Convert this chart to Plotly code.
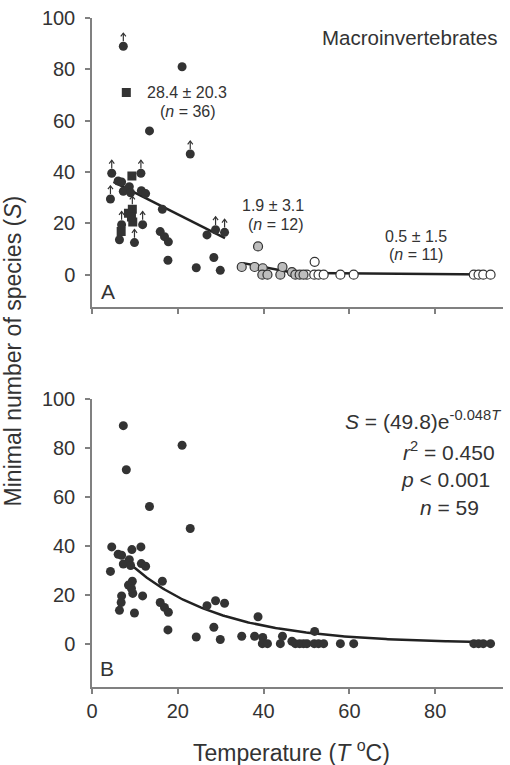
import numpy as np
import plotly.graph_objects as go

# ---- data ----
# group 1: T < ~31 degC (dark symbols), top panel
T_dark = [7.3, 8.0, 21.0, 13.4, 22.9, 4.6, 11.4, 9.3, 4.3, 6.1, 6.9, 7.3, 8.7, 9.0, 11.5, 12.5,
          9.4, 8.5, 9.5, 6.9, 6.8, 6.4, 9.9, 11.8, 16.4, 15.9, 16.9, 17.8, 17.7, 24.3, 26.8, 28.8,
          30.9, 28.4, 29.9, 9.2]
S_dark = [89, 71, 81, 56, 47, 39.5, 39.5, 38.4, 29.5, 36.5, 36.1, 32.5, 34.3, 31.9, 32.7, 31.6,
          25.5, 23.9, 20.5, 19.5, 16.8, 13.6, 12.5, 19.5, 25.5, 16.8, 14.8, 12.8, 5.6, 2.7, 15.5, 17.5,
          16.5, 6.7, 1.7, 22.5]
sym_dark = ["circle", "square", "circle", "circle", "circle", "circle", "circle", "square", "circle",
            "circle", "circle", "circle", "circle", "circle", "circle", "circle",
            "square", "square", "square", "circle", "square", "circle", "circle", "circle",
            "circle", "circle", "circle", "circle", "circle", "circle", "circle", "circle",
            "circle", "circle", "circle", "square"]
arrow_dark = [1, 0, 0, 0, 1, 1, 1, 0, 1, 0, 0, 0, 0, 0, 0, 0,
              1, 0, 0, 1, 0, 0, 1, 1, 0, 0, 0, 0, 0, 0, 0, 1,
              1, 0, 0, 0]

# group 2: ~35-50 degC (grey symbols)
T_grey = [34.9, 37.9, 38.7, 39.8, 39.7, 40.9, 43.9, 44.4, 46.6, 47.4, 48.4, 49.3]
S_grey = [3, 3, 11, 2.5, 0, 0, 0, 3, 1, 0, 0, 0]

# group 3: > 50 degC (open symbols)
T_open = [50.1, 51.9, 51.8, 52.8, 54.0, 57.9, 61.0, 89.0, 90.1, 91.2, 92.9]
S_open = [0, 5, 0, 0, 0, 0, 0, 0, 0, 0, 0]

# fitted lines in panel A (end points)
fitA_dark_T = [5.0, 31.0]
fitA_dark_S = [36.2, 14.2]
fitA_grey_T = [35.2, 48.5]
fitA_grey_S = [4.5, 0.3]
fitA_open_T = [50.0, 93.0]
fitA_open_S = [0.7, 0.1]

# panel B exponential fit  S = 49.8 e^(-0.048 T)
fitB_a = 49.8
fitB_b = -0.048
fitB_T_range = [9.0, 93.0]

x_ticks = [0, 20, 40, 60, 80]
y_ticks = [0, 20, 40, 60, 80, 100]

# ---- styling ----
FONT = "Liberation Sans, Arial, sans-serif"
DARK = "#333333"
GREY_FILL = "#bdbdbd"
AXIS = "#808080"
TXT = "#333333"

# arrow glyph geometry (in axis units of panel A): tail / tip offsets and chevron arms
ARR_TAIL, ARR_TIP, ARR_ARM_DY, ARR_ARM_DX = 1.9, 5.1, 1.3, 0.6

fig = go.Figure()

# ----- panel A (top) -----
for Tl, Sl in [(fitA_dark_T, fitA_dark_S), (fitA_grey_T, fitA_grey_S), (fitA_open_T, fitA_open_S)]:
    fig.add_trace(go.Scatter(x=Tl, y=Sl, mode="lines", line=dict(color="#222222", width=2.5),
                             xaxis="x2", yaxis="y2", showlegend=False, hoverinfo="skip"))

fig.add_trace(go.Scatter(x=T_open, y=S_open, mode="markers", xaxis="x2", yaxis="y2",
                         marker=dict(symbol="circle", size=9, color="white",
                                     line=dict(color=DARK, width=1.2)), showlegend=False))
fig.add_trace(go.Scatter(x=T_grey, y=S_grey, mode="markers", xaxis="x2", yaxis="y2",
                         marker=dict(symbol="circle", size=9, color=GREY_FILL,
                                     line=dict(color=DARK, width=1.2)), showlegend=False))
fig.add_trace(go.Scatter(x=T_dark, y=S_dark, mode="markers", xaxis="x2", yaxis="y2",
                         marker=dict(symbol=sym_dark, size=9, color=DARK,
                                     line=dict(width=0)), showlegend=False))

# "minimum value" arrows above some points of panel A
ax_, ay_ = [], []
for t, s, a in zip(T_dark, S_dark, arrow_dark):
    if a:
        tip = s + ARR_TIP
        ax_ += [t, t, None, t - ARR_ARM_DX, t, t + ARR_ARM_DX, None]
        ay_ += [s + ARR_TAIL, tip, None, tip - ARR_ARM_DY, tip, tip - ARR_ARM_DY, None]
fig.add_trace(go.Scatter(x=ax_, y=ay_, mode="lines", line=dict(color=DARK, width=1.2),
                         xaxis="x2", yaxis="y2", showlegend=False, hoverinfo="skip"))

# ----- panel B (bottom) -----
T_all = T_dark + T_grey + T_open
S_all = S_dark + S_grey + S_open
Tc = np.linspace(fitB_T_range[0], fitB_T_range[1], 200)
fig.add_trace(go.Scatter(x=Tc, y=fitB_a * np.exp(fitB_b * Tc), mode="lines",
                         line=dict(color="#222222", width=2.5), xaxis="x", yaxis="y",
                         showlegend=False, hoverinfo="skip"))
fig.add_trace(go.Scatter(x=T_all, y=S_all, mode="markers", xaxis="x", yaxis="y",
                         marker=dict(symbol="circle", size=9, color=DARK, line=dict(width=0)),
                         showlegend=False))

annotations = []

def txt(x, y, text, xref="x2", yref="y2", size=16, xanchor="center", yanchor="middle", **kw):
    d = dict(x=x, y=y, xref=xref, yref=yref, text=text, showarrow=False,
             font=dict(family=FONT, size=size, color=TXT), xanchor=xanchor, yanchor=yanchor)
    d.update(kw)
    annotations.append(d)

txt(74.1, 92.3, "Macroinvertebrates", size=20.5)
txt(22.1, 70.8, "28.4 ± 20.3")
txt(22.4, 63.5, "(<i>n</i> = 36)")
txt(42.2, 26.9, "1.9 ± 3.1")
txt(42.9, 19.6, "(<i>n</i> = 12)")
txt(75.5, 15.0, "0.5 ± 1.5")
txt(75.5, 7.7, "(<i>n</i> = 11)")
txt(3.7, -6.5, "A", size=21)

txt(3.6, -10.0, "B", xref="x", yref="y", size=21)
txt(95.8, 91.5, "<i>S</i> = (49.8)e<sup>-0.048</sup><sup><i>T</i></sup>", xref="x", yref="y",
    size=21, xanchor="right")
txt(83.2, 78.5, "<i>r</i><sup>2</sup> = 0.450", xref="x", yref="y", size=21)
txt(82.5, 67.0, "<i>p</i> < 0.001", xref="x", yref="y", size=21)
txt(83.4, 55.5, "<i>n</i> = 59", xref="x", yref="y", size=21)

# axis titles
txt(-0.19, 0.503, "Minimal number of species (<i>S</i>)", xref="paper", yref="paper", size=23,
    textangle=-90)
txt(0.4866, -0.0956, "Temperature (<i>T</i> <sup>o</sup>C)", xref="paper", yref="paper", size=23)

axis_common = dict(showgrid=False, zeroline=False, showline=True, linecolor=AXIS, linewidth=1.5,
                   ticks="outside", ticklen=5, tickwidth=1.5, tickcolor=AXIS,
                   tickfont=dict(family=FONT, size=20, color=TXT))

fig.update_layout(
    width=510, height=765,
    margin=dict(l=92, r=7, t=7, b=78),
    paper_bgcolor="white", plot_bgcolor="white",
    font=dict(family=FONT, color=TXT),
    xaxis=dict(range=[0, 95.8], domain=[0, 1], anchor="y", tickvals=x_ticks, **axis_common),
    yaxis=dict(range=[-17.7, 100], domain=[0, 0.4309], anchor="x", tickvals=y_ticks,
               ticklabelstandoff=6, **axis_common),
    xaxis2=dict(range=[0, 95.8], domain=[0, 1], anchor="y2", tickvals=x_ticks, showticklabels=False,
                **axis_common),
    yaxis2=dict(range=[-12.7, 100], domain=[0.5676, 1], anchor="x2", tickvals=y_ticks,
                ticklabelstandoff=6, **axis_common),
    annotations=annotations,
    showlegend=False,
)

fig.write_html("out.html", config={"displayModeBar": False},
               post_script="document.body.style.margin='0';document.body.style.overflow='hidden';")
